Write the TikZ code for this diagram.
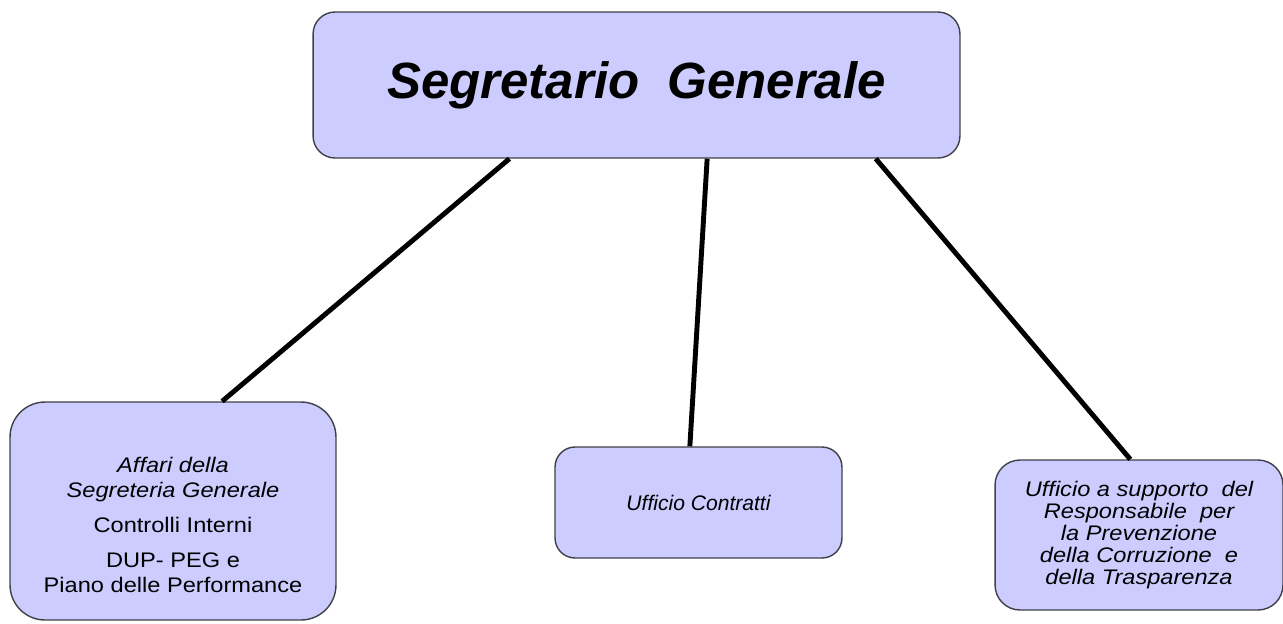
\documentclass[tikz,border=0pt]{standalone}
\usepackage{fontspec}
\setmainfont{Liberation Sans}
\newfontfamily\widesans[FakeStretch=1.12]{Liberation Sans}
\usetikzlibrary{calc}
\definecolor{boxfill}{HTML}{CCCCFF}
\definecolor{boxline}{HTML}{404048}

\begin{document}
\begin{tikzpicture}[x=0.02cm, y=-0.02cm,
    box/.style={draw=boxline, line width=0.8pt, fill=boxfill, align=center, inner sep=0pt},
    link/.style={line width=2.8pt, black}]

      % Define the frame
      \useasboundingbox (0,0) rectangle (1283,623);

      % Draw the boxes
      \node[box, rounded corners=0.44cm, minimum width=12.94cm, minimum height=2.92cm,
            font=\fontsize{29}{35}\selectfont\bfseries\itshape] (sg) at (636.5,85) {Segretario\ \ Generale};
      \node[box, rounded corners=0.7cm, minimum width=6.52cm, minimum height=4.36cm,
            font=\widesans\fontsize{12}{14.2}\selectfont] (aff) at (173,511)
            {\rule{0pt}{25pt}\itshape Affari della\\ \itshape Segreteria Generale\\[5.7pt] Controlli Interni\\[5.7pt] DUP- PEG e\\ Piano delle Performance};
      \node[box, rounded corners=0.4cm, minimum width=5.74cm, minimum height=2.22cm,
            font=\fontsize{12}{14.2}\selectfont\itshape] (uc) at (698.5,502.5) {Ufficio Contratti};
      \node[box, rounded corners=0.5cm, minimum width=5.76cm, minimum height=3.0cm,
            font=\widesans\fontsize{12}{12.5}\selectfont\itshape] (rpc) at (1139,535)
            {Ufficio a supporto\ \ del\\ Responsabile\ \ per\\ la Prevenzione\\ della Corruzione\ \ e\\ della Trasparenza};

      % Draw the links
      \draw[link] ($(sg.south west)!0.304!(sg.south east)$) -- ($(aff.north west)!0.65!(aff.north east)$);
      \draw[link] ($(sg.south west)!0.609!(sg.south east)$) -- ($(uc.north west)!0.47!(uc.north east)$);
      \draw[link] ($(sg.south west)!0.869!(sg.south east)$) -- ($(rpc.north west)!0.47!(rpc.north east)$);
    \end{tikzpicture}
\end{document}
